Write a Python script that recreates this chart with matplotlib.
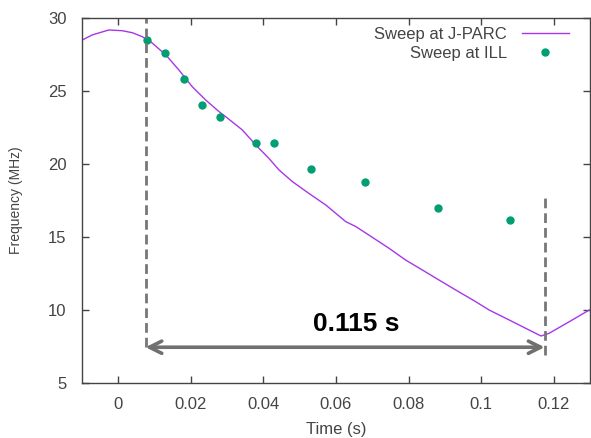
import matplotlib
matplotlib.use("Agg")
import matplotlib.pyplot as plt

# J-PARC sweep (curve)
jparc_t = [-0.0108, -0.0072, -0.0026, 0.0011, 0.0039, 0.0066, 0.0089, 0.0131,
           0.0167, 0.0204, 0.0241, 0.0278, 0.0296, 0.0342, 0.0379, 0.0415,
           0.0443, 0.0480, 0.0525, 0.0572, 0.0627, 0.0655, 0.0700, 0.0746,
           0.0792, 0.0838, 0.0884, 0.0930, 0.0985, 0.1022, 0.1077, 0.1132,
           0.1165, 0.1187, 0.1243, 0.1298]
jparc_f = [28.38, 28.84, 29.18, 29.13, 28.99, 28.72, 28.38, 27.47,
           26.44, 25.29, 24.38, 23.58, 23.24, 22.33, 21.30, 20.39,
           19.59, 18.79, 17.99, 17.19, 16.05, 15.71, 14.98, 14.23,
           13.42, 12.74, 12.05, 11.37, 10.57, 10.00, 9.32, 8.63,
           8.22, 8.40, 9.20, 10.00]

# ILL sweep (points)
ill_t = [0.008, 0.013, 0.018, 0.023, 0.028, 0.038, 0.043, 0.053, 0.068, 0.088, 0.108]
ill_f = [28.5, 27.6, 25.85, 24.05, 23.2, 21.45, 21.45, 19.65, 18.8, 17.0, 16.15]

t_start, t_end = 0.0075, 0.1175
duration_label = "0.115 s"

plt.rcParams['font.family'] = ['Liberation Sans', 'DejaVu Sans']
text_col = '#444444'

fig = plt.figure(figsize=(5.91, 4.38), dpi=100)
ax = fig.add_axes([82 / 591, 1 - 383 / 438, (590 - 82) / 591, (383 - 18) / 438])

ax.plot(jparc_t, jparc_f, color='#a637e8', lw=1.0, label='Sweep at J-PARC')
ax.plot(ill_t, ill_f, 'o', color='#009e73', ms=5, mec='#009e73', label='Sweep at ILL')

# markers for the sweep window
dash = (0, (3.5, 1.8))
ax.plot([t_start, t_start], [7.45, 30], ls=dash, color='#777777', lw=2.0)
ax.plot([t_end, t_end], [6.9, 17.9], ls=dash, color='#777777', lw=2.0)
ax.annotate('', xy=(t_start, 7.45), xytext=(t_end, 7.45),
            arrowprops=dict(arrowstyle='<->', color='#707070', lw=2.6,
                            mutation_scale=22, shrinkA=0, shrinkB=0))
ax.text(0.0655, 9.05, duration_label, ha='center', va='center',
        fontsize=19, fontweight='bold', color='black')

ax.set_xlim(-0.01, 0.13)
ax.set_ylim(5, 30)
ax.set_xticks([0, 0.02, 0.04, 0.06, 0.08, 0.1, 0.12])
ax.set_xticklabels(['0', '0.02', '0.04', '0.06', '0.08', '0.1', '0.12'])
ax.set_yticks([5, 10, 15, 20, 25, 30])
ax.tick_params(direction='in', top=True, right=True, length=5, width=1,
               colors='#444444', labelcolor=text_col, labelsize=12)
ax.tick_params(axis='y', pad=11)
ax.tick_params(axis='x', pad=10)
for s in ax.spines.values():
    s.set_color('#444444')
    s.set_linewidth(1)

ax.set_xlabel('Time (s)', fontsize=12, color=text_col, labelpad=7)
ax.set_ylabel('Frequency (MHz)', fontsize=10, color=text_col, labelpad=18)

leg = ax.legend(loc='upper right', frameon=False, markerfirst=False,
                fontsize=12, handlelength=2.8, borderaxespad=0,
                bbox_to_anchor=(572 / 591, 1 - 24 / 438),
                bbox_transform=fig.transFigure,
                borderpad=0.2, labelspacing=0.2, handletextpad=0.9)
for t in leg.get_texts():
    t.set_color(text_col)

fig.savefig('out.png', dpi=100)
